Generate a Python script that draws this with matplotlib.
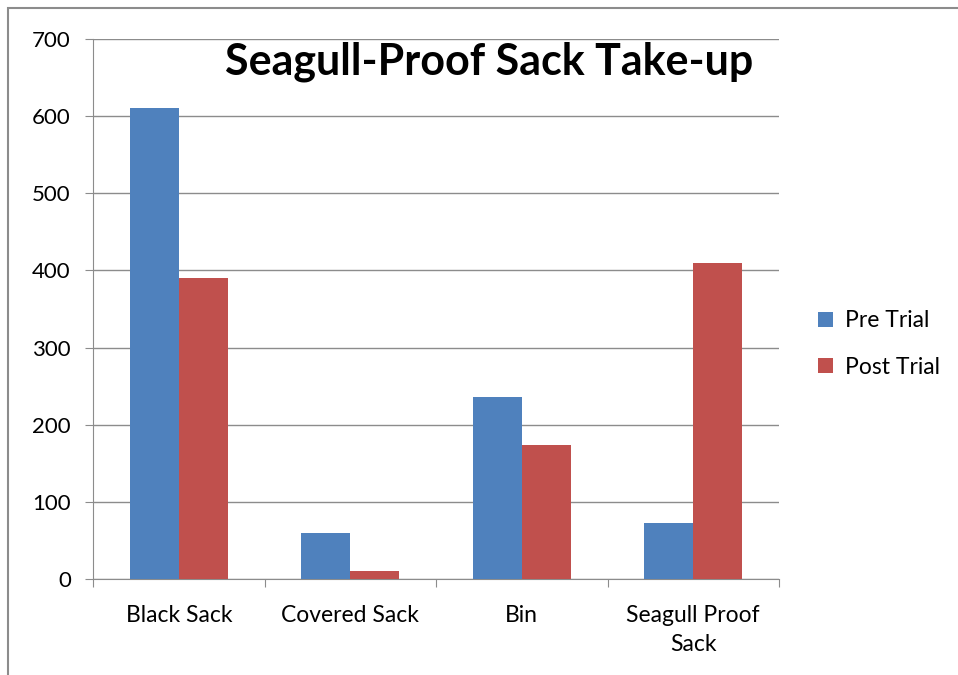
import numpy as np
import matplotlib.pyplot as plt
from matplotlib.patches import Rectangle

# Datos
categorias = ["Black Sack", "Covered Sack", "Bin", "Seagull Proof\nSack"]
pre_trial = [610, 60, 236, 72]
post_trial = [390, 10, 174, 410]
series = ["Pre Trial", "Post Trial"]
y_ticks = [0, 100, 200, 300, 400, 500, 600, 700]

plt.rcParams['font.family'] = ['Lato', 'DejaVu Sans']

fig = plt.figure(figsize=(9.58, 6.75), dpi=100)
ax = fig.add_axes([93/958, 1 - 579/675, (779 - 93)/958, (579 - 39)/675])

x = np.arange(len(categorias))
w = 1 / 3.5
ax.bar(x - w/2, pre_trial, width=w, color='#4f81bd', label=series[0], zorder=3)
ax.bar(x + w/2, post_trial, width=w, color='#c0504d', label=series[1], zorder=3)

ax.set_xlim(-0.5, len(categorias) - 0.5)
ax.set_ylim(0, 700)
ax.set_yticks(y_ticks)
ax.yaxis.grid(True, color='#8c8c8c', linewidth=1, zorder=0)

# Ticks del eje x entre categorias
ax.set_xticks(np.arange(len(categorias) + 1) - 0.5)
ax.set_xticklabels([])
ax.set_xticks(x, minor=True)
ax.set_xticklabels(categorias, minor=True, fontsize=16.5, linespacing=1.45)
ax.tick_params(axis='x', which='minor', length=0, pad=19)
ax.tick_params(axis='x', which='major', length=6, color='#8c8c8c')
ax.tick_params(axis='y', length=6, color='#8c8c8c', labelsize=16, pad=10)

for s in ['top', 'right']:
    ax.spines[s].set_visible(False)
for s in ['left', 'bottom']:
    ax.spines[s].set_color('#8c8c8c')

fig.text(489/958, 1 - 62/675, "Seagull-Proof Sack Take-up", fontsize=31,
         fontweight='bold', ha='center', va='center')

ax.legend(loc='center left', bbox_to_anchor=(1.027, 0.435), frameon=False,
          fontsize=16.5, handlelength=0.65, handleheight=0.65, handletextpad=0.5,
          labelspacing=1.1)

# Borde exterior del grafico
fig.patches.append(Rectangle((8/958, -0.1), 1.2, 1 - 8/675 + 0.1,
                             transform=fig.transFigure, fill=False,
                             edgecolor='#8c8c8c', linewidth=1.5))

fig.savefig("out.png", dpi=100)
